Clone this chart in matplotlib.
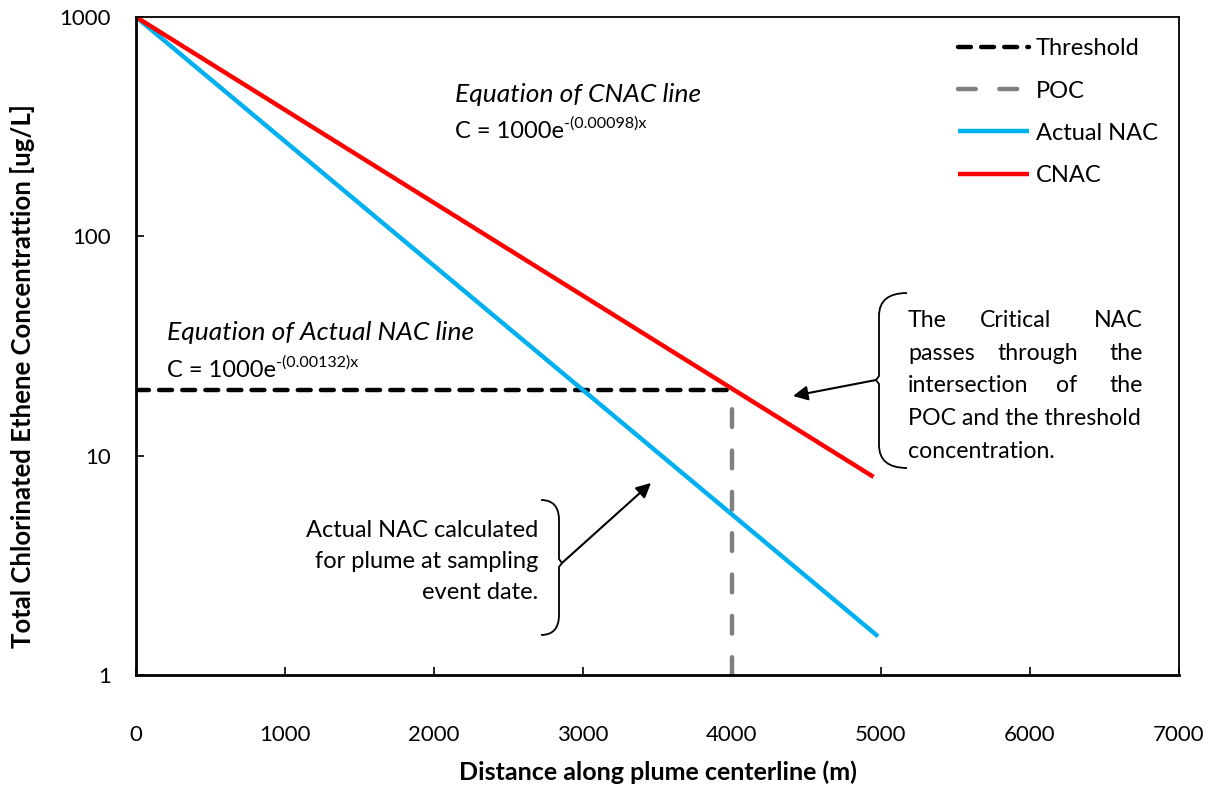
import matplotlib.pyplot as plt
import matplotlib.transforms as mtransforms
from matplotlib.path import Path
from matplotlib.patches import PathPatch

plt.rcParams["font.family"] = ["Lato", "DejaVu Sans"]

# line end points (straight lines on a log axis)
actual_x = [0, 4980]
actual_c = [1000, 1.5]
cnac_x = [0, 4950]
cnac_c = [1000, 8]
threshold_x = [0, 4000]
threshold_c = [20, 20]
poc_x = [4000, 4000]
poc_c = [1, 20]

x_ticks = [0, 1000, 2000, 3000, 4000, 5000, 6000, 7000]
y_ticks = [1, 10, 100, 1000]

W, H = 1215, 786
fig = plt.figure(figsize=(W / 100, H / 100), dpi=100)
ax = fig.add_axes([136 / W, 1 - 675 / H, (1179 - 136) / W, (675 - 17) / H])

# pixel coords of the reference image (origin top-left) -> figure
pix = mtransforms.Affine2D().scale(1 / W, -1 / H).translate(0, 1) + fig.transFigure

ax.plot(threshold_x, threshold_c, color="black", lw=3.2, dashes=(2.9, 2.3),
        dash_capstyle="round", label="Threshold")
ax.plot(poc_x, poc_c, color="#808080", lw=3.2, dashes=(4.0, 5.3),
        dash_capstyle="round", label="POC")
ax.plot(actual_x, actual_c, color="#00B0F0", lw=3.2, solid_capstyle="butt",
        label="Actual NAC")
ax.plot(cnac_x, cnac_c, color="#FF0000", lw=3.2, solid_capstyle="butt",
        label="CNAC")

ax.set_yscale("log")
ax.set_xlim(0, 7000)
ax.set_ylim(1, 1000)
ax.set_xticks(x_ticks)
ax.set_xticklabels([str(v) for v in x_ticks])
ax.set_yticks(y_ticks)
ax.set_yticklabels([str(v) for v in y_ticks])
ax.yaxis.set_minor_locator(plt.NullLocator())
ax.tick_params(axis="both", direction="in", length=6, width=1.2,
               labelsize=16, colors="black")
ax.tick_params(axis="x", pad=36)
ax.tick_params(axis="y", pad=18)
for s in ax.spines.values():
    s.set_linewidth(1.3)
ax.spines["left"].set_linewidth(2)
ax.spines["bottom"].set_linewidth(2)

ax.set_xlabel("Distance along plume centerline (m)", fontsize=18,
              fontweight="bold", labelpad=11)
ax.set_ylabel("Total Chlorinated Ethene Concentrattion [ug/L]", fontsize=18.5,
              fontweight="bold")
ax.yaxis.set_label_coords(-0.097, 0.454)

ax.legend(loc="upper right", frameon=False, fontsize=17,
          handlelength=3.0, handletextpad=0.3, labelspacing=0.9,
          borderaxespad=0.5)

# equations: main line plus a small raised exponent
renderer = fig.canvas.get_renderer()
for x0, y_title, y_eq, title, expo in [
        (455, 102, 138, "Equation of CNAC line", "-(0.00098)x"),
        (167, 340, 377, "Equation of Actual NAC line", "-(0.00132)x")]:
    fig.text(x0 / W, 1 - y_title / H, title, fontsize=19, style="italic",
             va="baseline")
    t = fig.text(x0 / W, 1 - y_eq / H, "C = 1000e", fontsize=17, va="baseline")
    bb = t.get_window_extent(renderer=renderer)
    fig.text(bb.x1 / fig.bbox.width, 1 - (y_eq - 10) / H, expo,
             fontsize=11.5, va="baseline")

# right note, justified by hand
rows = [
    (327, [("The", 908, "left"), ("Critical", 1016, "center"), ("NAC", 1143, "right")]),
    (360, [("passes", 908, "left"), ("through", 1038, "center"), ("the", 1143, "right")]),
    (392, [("intersection", 908, "left"), ("of", 1067, "center"), ("the", 1143, "right")]),
    (425, [("POC and the threshold", 908, "left")]),
    (458, [("concentration.", 908, "left")]),
]
for y, words in rows:
    for w, x, ha in words:
        fig.text(x / W, 1 - y / H, w, fontsize=16.7, ha=ha, va="baseline")

for y, line in [(537, "Actual NAC calculated"), (568, "for plume at sampling"),
                (599, "event date.")]:
    fig.text(538 / W, 1 - y / H, line, fontsize=17, ha="right", va="baseline")

# braces
lb = Path(
    [(907, 293), (879, 293), (879, 316), (879, 376), (876, 380), (879, 384),
     (879, 445), (879, 468), (907, 468)],
    [Path.MOVETO, Path.CURVE3, Path.CURVE3, Path.LINETO, Path.LINETO,
     Path.LINETO, Path.LINETO, Path.CURVE3, Path.CURVE3])
rb = Path(
    [(541, 500), (559, 500), (559, 520), (559, 559), (562, 563), (559, 567),
     (559, 615), (559, 635), (541, 635)],
    [Path.MOVETO, Path.CURVE3, Path.CURVE3, Path.LINETO, Path.LINETO,
     Path.LINETO, Path.LINETO, Path.CURVE3, Path.CURVE3])
for p in (lb, rb):
    fig.patches.append(PathPatch(p, transform=pix, fill=False, lw=1.3,
                                 edgecolor="black"))

arrow = dict(arrowstyle="-|>", color="black", lw=1.5, mutation_scale=22,
             shrinkA=0, shrinkB=0)
ax.annotate("", xy=(793, 396), xytext=(876, 380), xycoords=pix,
            textcoords=pix, arrowprops=arrow)
ax.annotate("", xy=(651, 483), xytext=(562, 563), xycoords=pix,
            textcoords=pix, arrowprops=arrow)

fig.savefig("out.png", dpi=100)
